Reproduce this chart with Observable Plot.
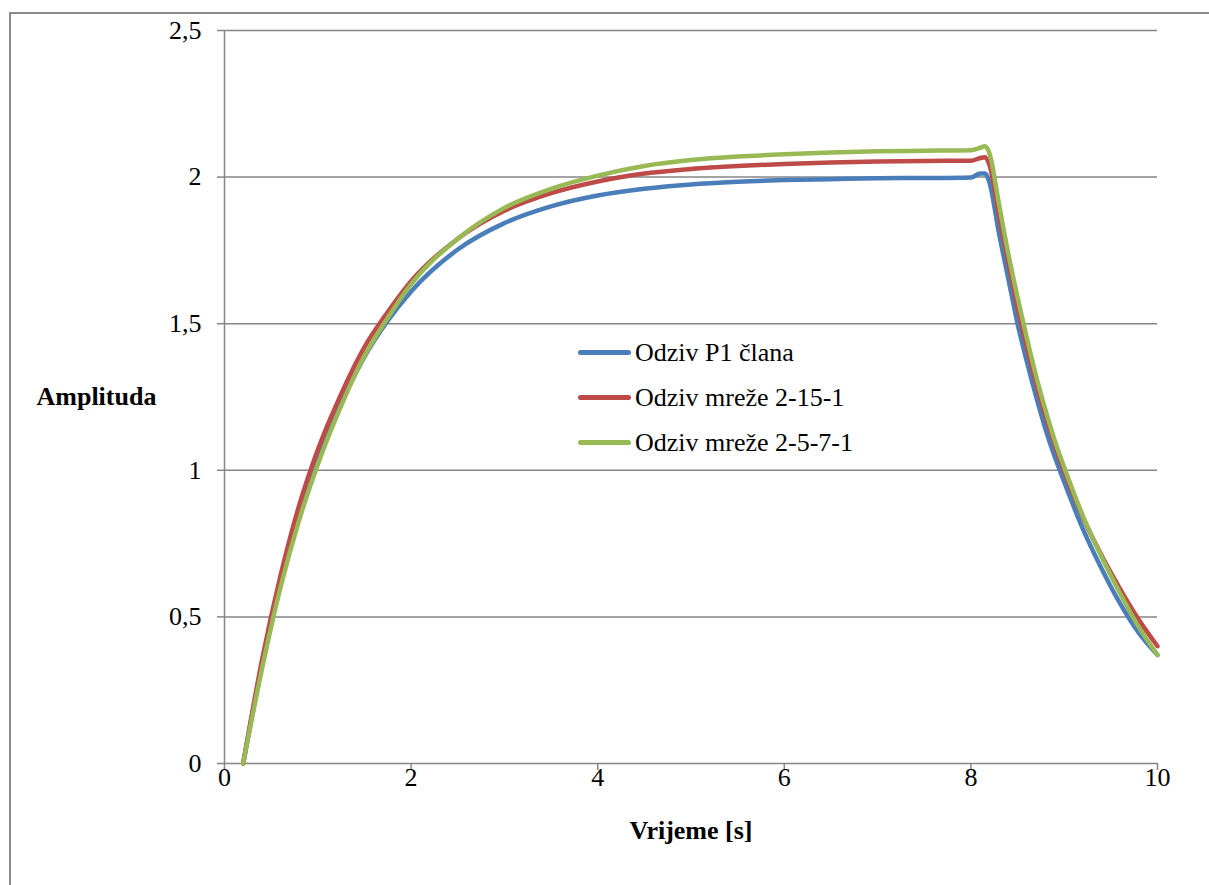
<!DOCTYPE html>
<html>
<head>
<meta charset="utf-8">
<script src="https://cdn.jsdelivr.net/npm/d3@7"></script>
<script src="https://cdn.jsdelivr.net/npm/@observablehq/plot@0.6"></script>
<style>
  html, body { margin: 0; padding: 0; background: #fff; overflow: hidden; }
  #wrap { position: relative; width: 1209px; height: 885px; overflow: hidden;
          font-family: "Liberation Serif", "Times New Roman", Tinos, "DejaVu Serif", serif; }
  #chart svg, #chart svg text { font-family: "Liberation Serif", "Times New Roman", Tinos, "DejaVu Serif", serif; }
  #chart svg g[aria-label*="axis"] line,
  #chart svg g[aria-label$="axis tick"] path { stroke: #868686; stroke-width: 1.5; }
  #border { position: absolute; left: 9px; top: 12px; width: 1400px; height: 1100px;
            border: 2px solid #8c8c8c; pointer-events: none; }
  #legend { position: absolute; left: 578px; top: 330px; font-size: 26px; color: #000; }
  .row { display: flex; align-items: center; height: 45px; }
  .sw { width: 53px; height: 5px; border-radius: 3px; margin-right: 4px; margin-top: -1px; }
</style>
</head>
<body>
<div id="wrap">
  <div id="chart"></div>
  <div id="legend"></div>
  <div id="border"></div>
</div>
<script>
// time [s]
const t = [0.2,0.4,0.6,0.8,1.0,1.25,1.5,1.75,2.0,2.5,3.0,3.5,4.0,4.5,5.0,5.5,6.0,6.5,7.0,7.5,
           8.0,8.1,8.15,8.2,8.3,8.4,8.5,8.6,8.7,8.8,8.9,9.0,9.2,9.4,9.6,9.8,10.0];
// Odziv P1 člana
const p1 = [0,0.333,0.61,0.84,1.034,1.23,1.387,1.51,1.61,1.753,1.843,1.90,1.937,1.96,1.975,1.984,1.99,1.993,1.996,1.997,
            1.999,2.012,2.012,1.98,1.81,1.655,1.50,1.37,1.25,1.14,1.045,0.96,0.80,0.665,0.545,0.445,0.37];
// Odziv mreže 2-15-1
const m2151 = [0,0.35,0.64,0.88,1.07,1.26,1.42,1.54,1.645,1.79,1.885,1.945,1.985,2.012,2.028,2.038,2.045,2.05,2.053,2.055,
               2.056,2.065,2.068,2.04,1.87,1.71,1.555,1.42,1.295,1.185,1.085,0.995,0.84,0.71,0.595,0.49,0.40];
// Odziv mreže 2-5-7-1
const m2571 = [0,0.32,0.60,0.83,1.02,1.22,1.39,1.52,1.635,1.79,1.895,1.96,2.005,2.038,2.058,2.07,2.078,2.084,2.088,2.09,
               2.092,2.10,2.105,2.08,1.91,1.74,1.59,1.45,1.32,1.205,1.10,1.01,0.845,0.705,0.58,0.465,0.37];

const seriesNames = ["Odziv P1 člana", "Odziv mreže 2-15-1", "Odziv mreže 2-5-7-1"];
const seriesValues = [p1, m2151, m2571];
const colors = ["#4A7EBB", "#BE4B48", "#98B954"];
const xTicks = [0, 2, 4, 6, 8, 10];
const yTicks = [0, 0.5, 1, 1.5, 2, 2.5];
const xLabel = "Vrijeme [s]";
const yLabel = "Amplituda";

const rows = [];
seriesNames.forEach((name, i) => {
  t.forEach((x, j) => rows.push({ t: x, v: seriesValues[i][j], s: name }));
});

const fmt = d => String(d).replace(".", ",");
const serif = "'Liberation Serif', 'Times New Roman', Tinos, 'DejaVu Serif', serif";

const chart = Plot.plot({
  width: 1209,
  height: 885,
  marginLeft: 224,
  marginRight: 52,
  marginTop: 30,
  marginBottom: 122,
  style: { fontFamily: serif, fontSize: "26px", color: "#000", background: "transparent", overflow: "visible" },
  x: { domain: [0, 10], ticks: xTicks, tickSize: 7, tickPadding: -3, tickFormat: fmt, label: null },
  y: { domain: [0, 2.5], ticks: yTicks, tickSize: 7, tickPadding: 16, tickFormat: fmt, label: null },
  color: { domain: seriesNames, range: colors },
  marks: [
    Plot.ruleY(yTicks, { stroke: "#868686", strokeWidth: 1.5 }),
    Plot.ruleX([0], { stroke: "#868686", strokeWidth: 1.5 }),
    Plot.line(rows, { x: "t", y: "v", z: "s", stroke: "s", strokeWidth: 4.5, curve: "monotone-x", strokeLinejoin: "round" }),
    Plot.text([yLabel], { text: d => d, frameAnchor: "left", dx: -188, textAnchor: "start", fontWeight: "bold", fill: "#000" }),
    Plot.text([xLabel], { text: d => d, frameAnchor: "bottom", dy: 75, fontWeight: "bold", fill: "#000" })
  ]
});
document.getElementById("chart").appendChild(chart);

const legend = document.getElementById("legend");
seriesNames.forEach((name, i) => {
  const row = document.createElement("div");
  row.className = "row";
  const sw = document.createElement("div");
  sw.className = "sw";
  sw.style.background = colors[i];
  const span = document.createElement("span");
  span.textContent = name;
  row.appendChild(sw);
  row.appendChild(span);
  legend.appendChild(row);
});
</script>
</body>
</html>
